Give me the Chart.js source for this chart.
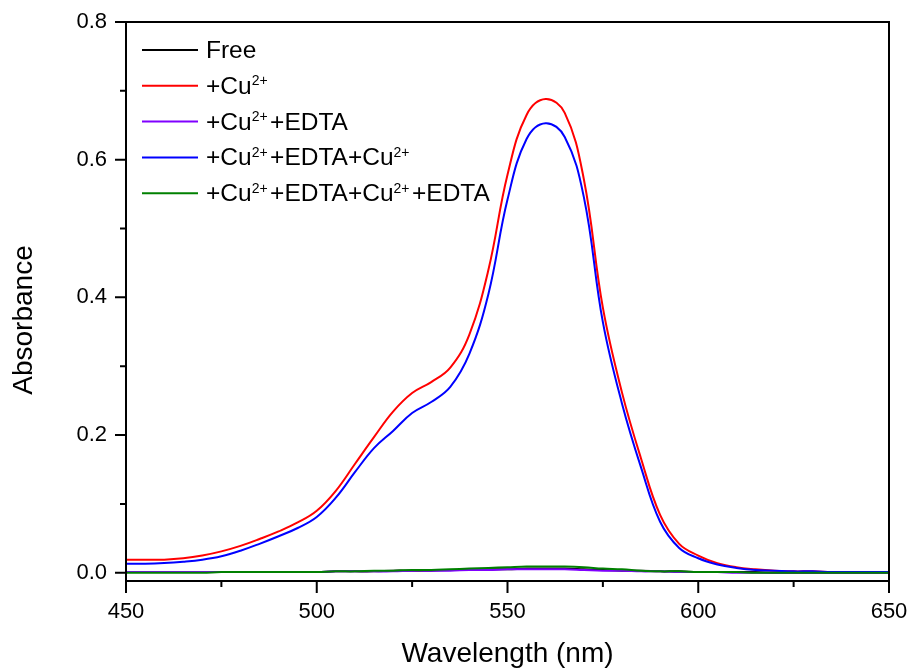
<!DOCTYPE html>
<html>
<head>
<meta charset="utf-8">
<script src="https://cdn.jsdelivr.net/npm/chart.js@4.4.1/dist/chart.umd.min.js"></script>
<style>
  html, body { margin: 0; padding: 0; background: #fff; }
  #wrap { width: 910px; height: 670px; }
</style>
</head>
<body>
<div id="wrap"><canvas id="spectra" width="910" height="670"></canvas></div>
<script>
// UV-vis spectra, 450-650 nm every 5 nm
const wavelengths = [450, 455, 460, 465, 470, 475, 480, 485, 490, 495,
  500, 505, 510, 515, 520, 525, 530, 535, 540, 545,
  550, 555, 560, 565, 570, 575, 580, 585, 590, 595,
  600, 605, 610, 615, 620, 625, 630, 635, 640, 645, 650];

const free = [0.001, 0.001, 0.001, 0.001, 0.001, 0.001, 0.001, 0.001, 0.001, 0.001,
  0.001, 0.002, 0.002, 0.002, 0.003, 0.003, 0.003, 0.004, 0.004, 0.005,
  0.005, 0.006, 0.006, 0.006, 0.005, 0.004, 0.003, 0.003, 0.002, 0.002,
  0.001, 0.001, 0.001, 0.001, 0.000, 0.000, 0.000, 0.000, 0.000, 0.000, 0.000];

const withCu = [0.019, 0.019, 0.019, 0.021, 0.025, 0.031, 0.039, 0.049, 0.060, 0.073,
  0.090, 0.119, 0.158, 0.197, 0.234, 0.261, 0.277, 0.298, 0.346, 0.440,
  0.578, 0.665, 0.688, 0.668, 0.572, 0.385, 0.262, 0.166, 0.084, 0.042,
  0.025, 0.014, 0.008, 0.005, 0.003, 0.002, 0.002, 0.001, 0.001, 0.001, 0.001];

const cuEdta = [0.001, 0.001, 0.001, 0.001, 0.001, 0.001, 0.001, 0.001, 0.001, 0.001,
  0.001, 0.002, 0.002, 0.002, 0.002, 0.003, 0.003, 0.003, 0.004, 0.004,
  0.005, 0.005, 0.005, 0.005, 0.004, 0.003, 0.003, 0.002, 0.002, 0.001,
  0.001, 0.001, 0.000, 0.000, 0.000, 0.000, 0.000, 0.000, 0.000, 0.000, 0.000];

const cuEdtaCu = [0.013, 0.013, 0.014, 0.016, 0.019, 0.024, 0.032, 0.042, 0.053, 0.065,
  0.081, 0.109, 0.146, 0.181, 0.206, 0.232, 0.248, 0.270, 0.318, 0.405,
  0.542, 0.630, 0.653, 0.633, 0.546, 0.364, 0.246, 0.153, 0.074, 0.036,
  0.021, 0.012, 0.007, 0.004, 0.003, 0.002, 0.002, 0.001, 0.001, 0.001, 0.001];

const cuEdtaCuEdta = [0.000, 0.000, 0.000, 0.000, 0.000, 0.001, 0.001, 0.001, 0.001, 0.001,
  0.001, 0.002, 0.002, 0.003, 0.003, 0.004, 0.004, 0.005, 0.006, 0.007,
  0.008, 0.009, 0.009, 0.009, 0.008, 0.006, 0.005, 0.003, 0.002, 0.002,
  0.001, 0.001, 0.001, 0.000, 0.000, 0.000, 0.000, 0.000, 0.000, 0.000, 0.000];

// {..} marks a superscript
const seriesLabels = ['Free', '+Cu{2+}', '+Cu{2+}+EDTA', '+Cu{2+}+EDTA+Cu{2+}', '+Cu{2+}+EDTA+Cu{2+}+EDTA'];
const seriesColors = ['#000000', '#ff0000', '#8000ff', '#0000ff', '#008000'];
const seriesData = [free, withCu, cuEdta, cuEdtaCu, cuEdtaCuEdta];

const xTicks = [450, 500, 550, 600, 650];
const xMinorTicks = [475, 525, 575, 625];
const yTicks = [0.0, 0.2, 0.4, 0.6, 0.8];
const yMinorTicks = [0.1, 0.3, 0.5, 0.7];

const FONT = "Arial, 'Liberation Sans', sans-serif";

function drawRichText(ctx, text, x, y, size) {
  const parts = text.split(/(\{[^}]*\})/).filter(p => p.length);
  let cx = x;
  parts.forEach(p => {
    if (p[0] === '{') {
      const s = p.slice(1, -1);
      ctx.font = '14px ' + FONT;
      ctx.fillText(s, cx, y - 8.5);
      cx += ctx.measureText(s).width + 2.5;
    } else {
      ctx.font = size + 'px ' + FONT;
      ctx.fillText(p, cx, y);
      cx += ctx.measureText(p).width;
    }
  });
}

// keep tick labels from pushing the plot area around
function noOverflow(s) {
  s.paddingLeft = s.paddingRight = s.paddingTop = s.paddingBottom = 0;
}

const framePlugin = {
  id: 'frame',
  afterDraw(chart) {
    const { ctx, chartArea: a, scales: { x, y } } = chart;
    ctx.save();
    ctx.strokeStyle = '#000';
    ctx.lineWidth = 2;
    ctx.strokeRect(a.left, a.top, a.right - a.left, a.bottom - a.top);

    ctx.beginPath();
    xTicks.forEach(v => { const p = x.getPixelForValue(v); ctx.moveTo(p, a.bottom); ctx.lineTo(p, a.bottom + 12); });
    xMinorTicks.forEach(v => { const p = x.getPixelForValue(v); ctx.moveTo(p, a.bottom); ctx.lineTo(p, a.bottom + 6); });
    yTicks.forEach(v => { const p = y.getPixelForValue(v); ctx.moveTo(a.left, p); ctx.lineTo(a.left - 11, p); });
    yMinorTicks.forEach(v => { const p = y.getPixelForValue(v); ctx.moveTo(a.left, p); ctx.lineTo(a.left - 6, p); });
    ctx.stroke();

    // axis titles
    ctx.fillStyle = '#000';
    ctx.font = '28px ' + FONT;
    ctx.textAlign = 'center';
    ctx.textBaseline = 'alphabetic';
    ctx.fillText('Wavelength (nm)', (a.left + a.right) / 2, 662);
    ctx.save();
    ctx.translate(32, 320);
    ctx.rotate(-Math.PI / 2);
    ctx.fillText('Absorbance', 0, 0);
    ctx.restore();

    // legend
    ctx.textAlign = 'left';
    seriesLabels.forEach((label, i) => {
      const ry = 50 + i * 35.8;
      ctx.strokeStyle = seriesColors[i];
      ctx.lineWidth = 2;
      ctx.beginPath();
      ctx.moveTo(142, ry);
      ctx.lineTo(198, ry);
      ctx.stroke();
      ctx.fillStyle = '#000';
      drawRichText(ctx, label, 206, ry + 8, 24.5);
    });
    ctx.restore();
  }
};

new Chart(document.getElementById('spectra'), {
  type: 'line',
  data: {
    labels: wavelengths,
    datasets: seriesData.map((d, i) => ({
      label: seriesLabels[i].replace(/[{}]/g, ''),
      data: wavelengths.map((w, j) => ({ x: w, y: d[j] })),
      borderColor: seriesColors[i],
      borderWidth: 2,
      pointRadius: 0,
      fill: false,
      tension: 0.4,
      order: seriesData.length - 1 - i
    }))
  },
  options: {
    responsive: false,
    animation: false,
    devicePixelRatio: 1,
    layout: { padding: { left: 0, right: 21, top: 22, bottom: 0 } },
    plugins: { legend: { display: false }, tooltip: { enabled: false } },
    scales: {
      x: {
        type: 'linear',
        min: 450,
        max: 650,
        afterBuildTicks: s => { s.ticks = xTicks.map(v => ({ value: v })); },
        afterFit: s => { s.height = 89; noOverflow(s); },
        grid: { display: false, drawTicks: false },
        border: { display: false },
        ticks: { color: '#000', font: { size: 22, family: FONT }, padding: 18, maxRotation: 0, autoSkip: false }
      },
      y: {
        min: -0.012,
        max: 0.8,
        afterBuildTicks: s => { s.ticks = yTicks.map(v => ({ value: v })); },
        afterFit: s => { s.width = 126; noOverflow(s); },
        grid: { display: false, drawTicks: false },
        border: { display: false },
        ticks: { color: '#000', font: { size: 22, family: FONT }, padding: 19, callback: v => v.toFixed(1) }
      }
    }
  },
  plugins: [framePlugin]
});
</script>
</body>
</html>
